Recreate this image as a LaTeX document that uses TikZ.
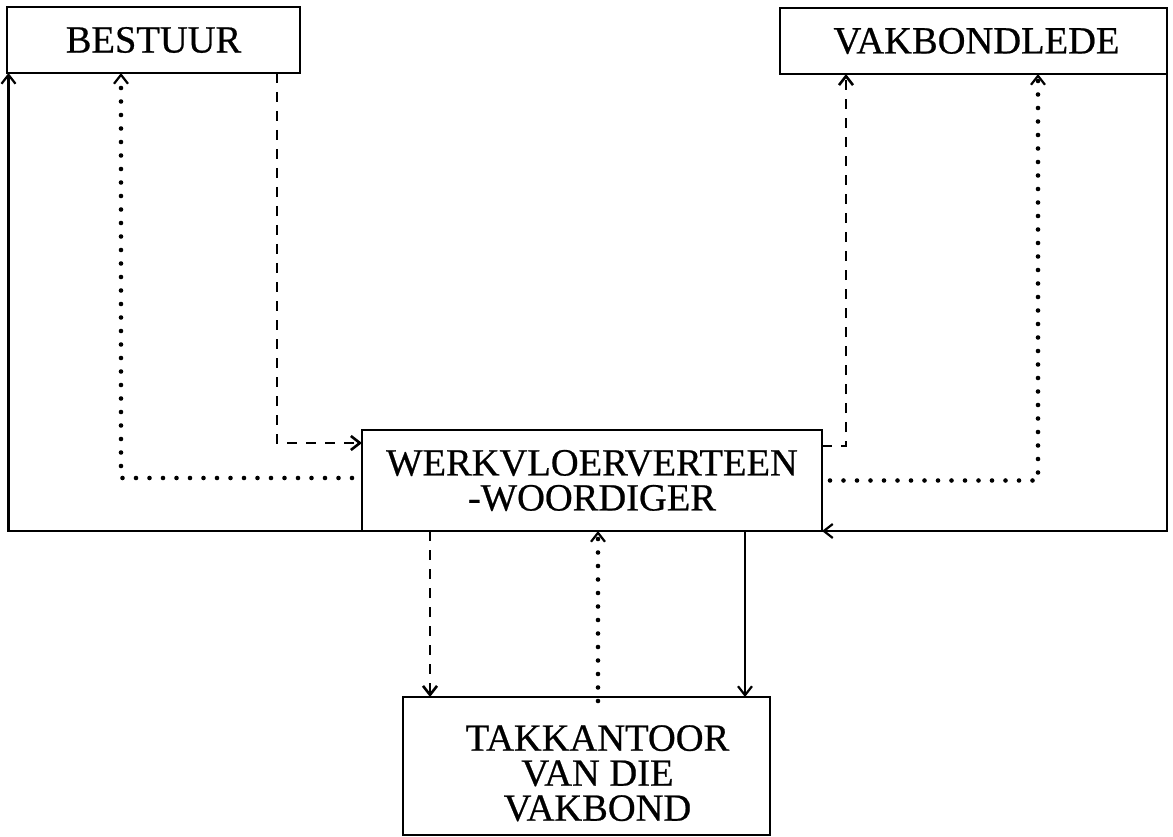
\documentclass[tikz,border=0pt]{standalone}
\usepackage{fontspec}
\setmainfont{Liberation Serif}
\newfontfamily\heavyfont{Liberation Serif}[BoldFont={Liberation Serif},BoldFeatures={FakeBold=0.6}]
\usetikzlibrary{arrows.meta,calc}
\tikzset{
  boxnode/.style={draw, line width=2.2pt, rectangle, outer sep=0pt, inner sep=0pt, align=center,
    font=\heavyfont\bfseries\fontsize{38.5}{35}\selectfont},
  conn/.style={line width=2.2pt, -{Straight Barb[length=9pt,width=14pt]}},
  solidconn/.style={conn},
  dashconn/.style={conn, line width=2.6pt, dash pattern=on 10pt off 9pt},
  dotconn/.style={conn, line width=4.6pt, line cap=round, dash pattern=on 0pt off 13.5pt,
    -{Straight Barb[length=9pt,width=14pt,line width=2.2pt]}},
}
\begin{document}
\begin{tikzpicture}[x=1pt,y=-1pt]
\useasboundingbox (0,0) rectangle (1173,837);
\node[boxnode, minimum width=293pt, minimum height=66pt] (BEST) at (153.5,40) {BESTUUR};
\node[boxnode, minimum width=387pt, minimum height=66pt] (VAK) at (973.5,41) {\hspace*{6pt}VAKBONDLEDE};
\node[boxnode, minimum width=460pt, minimum height=101pt] (WERK) at (592,480.5) {WERKVLOERVERTEEN\\-WOORDIGER};
\node[boxnode, minimum width=367pt, minimum height=138pt] (TAK) at (586.5,766) {\rule{0pt}{40pt}\hspace*{22pt}TAKKANTOOR\\\hspace*{22pt}VAN DIE\\\hspace*{22pt}VAKBOND};
% solid connectors
\draw[solidconn] (WERK.south west) -| ([xshift=1.5pt]BEST.south west);
\draw[solidconn] (VAK.south east) |- (WERK.south east);
\draw[solidconn] ([xshift=153pt]WERK.south) -- ([xshift=158.5pt]TAK.north);
% dashed connectors
\draw[dashconn] ([xshift=-162pt]WERK.south) -- ([xshift=-156.5pt]TAK.north);
\draw[dashconn] ([xshift=123.5pt]BEST.south) |- ([yshift=37.5pt]WERK.west);
\draw[dashconn] ([yshift=34.5pt]WERK.east) -| ([xshift=-127.5pt]VAK.south);
% dotted connectors
\draw[dotconn] ([xshift=11.5pt,yshift=-4pt]TAK.north) -- ([xshift=6pt]WERK.south);
\draw[dotconn] ([xshift=-10pt,yshift=2.5pt]WERK.west) -| ([xshift=-32.5pt]BEST.south);
\draw[dotconn] ([xshift=8pt]WERK.east) -| ([xshift=64.5pt]VAK.south);
\end{tikzpicture}
\end{document}
